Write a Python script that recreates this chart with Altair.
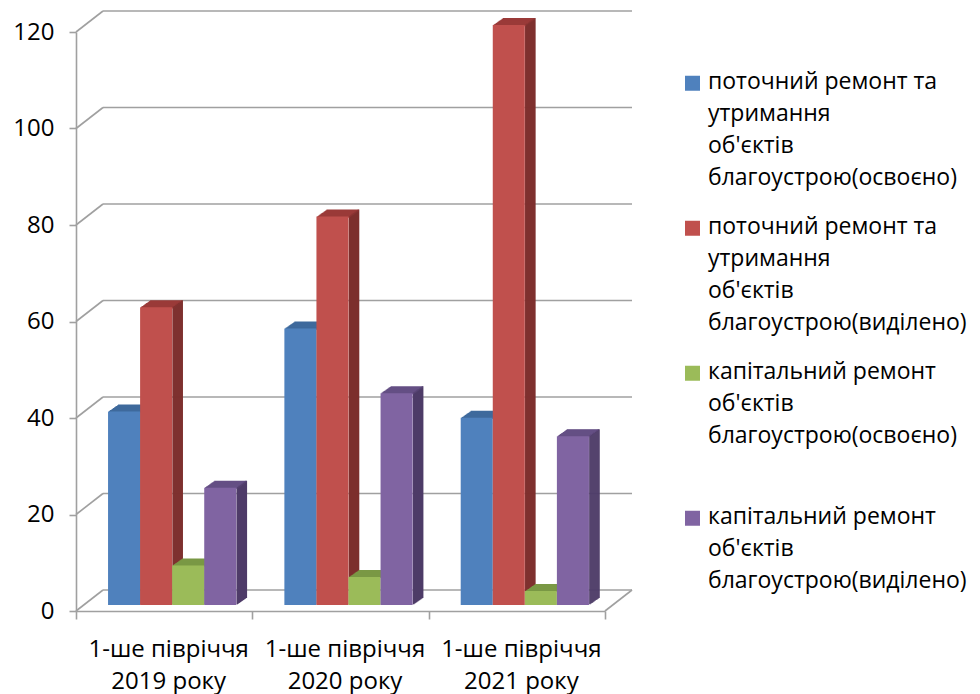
import altair as alt
import pandas as pd

categories = ["1-ше півріччя\n2019 року", "1-ше півріччя\n2020 року", "1-ше півріччя\n2021 року"]
series = [
    "поточний ремонт та\nутримання\nоб'єктів\nблагоустрою(освоєно)",
    "поточний ремонт та\nутримання\nоб'єктів\nблагоустрою(виділено)",
    "капітальний ремонт\nоб'єктів\nблагоустрою(освоєно)",
    "капітальний ремонт\nоб'єктів\nблагоустрою(виділено)",
]
blue_vals = [40.1, 57.3, 38.8]
red_vals = [61.7, 80.5, 120.2]
green_vals = [8.2, 5.8, 2.9]
purple_vals = [24.3, 43.9, 35.0]
front_colors = ["#4F81BD", "#C0504D", "#9BBB59", "#8064A2"]
top_colors = ["#3F6A9C", "#9A3B39", "#7A9845", "#654F84"]
side_colors = ["#385D8A", "#7D2F2D", "#6B8739", "#4E3C68"]
grid_values = [0, 20, 40, 60, 80, 100, 120]

rows = []
for s_i, vals in enumerate([blue_vals, red_vals, green_vals, purple_vals]):
    for c_i, v in enumerate(vals):
        rows.append({"cat": categories[c_i], "series": series[s_i], "value": v,
                     "top": top_colors[s_i], "side": side_colors[s_i]})
df = pd.DataFrame(rows)
grid = pd.DataFrame({"v": grid_values})

W, H = 529, 579
STEP = W / 3 / 5.5        # width of one bar
START = 0.75 * STEP       # gap before the first bar of a group
FX, FY = 8, -6            # front face offset of bars (depth inside the floor)
DX, DY = 27, -21          # back wall offset
FONT = "Open Sans"
GRID = "#a0a0a0"

yscale = alt.Scale(domain=[0, 120], nice=False, zero=True)
xscale = alt.Scale(domain=categories, paddingInner=0, paddingOuter=0)

yaxis = alt.Axis(values=grid_values, grid=False, labelFontSize=24, labelFont=FONT,
                 labelColor="#000000", tickSize=7, tickColor=GRID, tickWidth=1.6,
                 domainColor=GRID, domainWidth=1.6, labelPadding=15, title=None)
xaxis = alt.Axis(labelExpr="isValid(datum.value) ? split(datum.value, '\\n') : ''",
                 labelAngle=0,
                 labelFontSize=24, labelFont=FONT, labelColor="#000000",
                 labelLineHeight=32, labelPadding=18, labelOffset=4,
                 tickBand="extent", tickSize=8, tickColor=GRID, tickWidth=1.6,
                 domainColor=GRID, domainWidth=1.6, labelBaseline="top", title=None)


def yenc(field):
    return alt.Y(field, scale=yscale, axis=yaxis, title=None)


enc_x = alt.X("cat:N", scale=xscale, axis=xaxis, sort=categories, title=None)


def oenc(shift):
    return alt.XOffset("series:N", sort=series,
                       scale=alt.Scale(domain=series, paddingInner=0, paddingOuter=0,
                                       range=[START + shift, START + shift + 4 * STEP]))


# gridlines (back wall + left wall diagonals)
back = alt.Chart(grid).mark_rule(color=GRID, strokeWidth=1.6, yOffset=DY).encode(
    x=alt.value(DX), x2=alt.value(W + DX), y=yenc("v:Q"))
diag = alt.Chart(grid).mark_rule(color=GRID, strokeWidth=1.6, y2Offset=DY).encode(
    x=alt.value(0), x2=alt.value(DX), y=yenc("v:Q"), y2="v:Q")
floor_right = alt.Chart(grid[grid.v == 0]).mark_rule(color=GRID, strokeWidth=1.6, y2Offset=DY).encode(
    x=alt.value(W), x2=alt.value(W + DX), y=yenc("v:Q"), y2="v:Q")

layers = [back, diag, floor_right]

for k in range(10, 0, -1):
    dx = FX + k
    dy = FY - 0.7 * k
    side = alt.Chart(df).mark_bar(width=1.6, yOffset=dy, y2Offset=dy).encode(
        x=enc_x, xOffset=oenc(dx + STEP / 2),
        y=yenc("value:Q"), y2=alt.datum(0),
        color=alt.Color("side:N", scale=None))
    top = alt.Chart(df).mark_bar(yOffset=dy, y2Offset=dy + 1.8).encode(
        x=enc_x, xOffset=oenc(dx),
        y=yenc("value:Q"), y2="value:Q",
        color=alt.Color("top:N", scale=None))
    layers += [side, top]

front = alt.Chart(df).mark_bar(yOffset=FY, y2Offset=FY).encode(
    x=enc_x,
    xOffset=oenc(FX),
    y=yenc("value:Q"),
    y2=alt.datum(0),
    color=alt.Color("series:N", scale=alt.Scale(domain=series, range=front_colors),
                    legend=alt.Legend(title=None, orient="none", legendX=605, legendY=45,
                                      labelExpr="split(datum.label, '\\n')",
                                      labelFont=FONT, labelFontSize=23, labelColor="#000000",
                                      labelLimit=500,
                                      labelBaseline="alphabetic",
                                      symbolType="M-1,-1.7H1V0.3H-1Z",
                                      symbolSize=225, symbolStrokeWidth=0,
                                      labelOffset=4, gridAlign="all", rowPadding=25)),
)
layers.append(front)

chart = alt.layer(*layers).resolve_scale(xOffset="independent").properties(
    width=W, height=H,
    autosize=alt.AutoSizeParams(type="none"),
    padding={"left": 76, "top": 32, "right": 980 - 76 - W, "bottom": 694 - 32 - H},
    background="white",
).configure(
    view=alt.ViewConfig(stroke=None),
    style={"guide-label": {"lineHeight": 32}},
)

chart.save("out.html", embed_options={"renderer": "svg", "actions": False})
